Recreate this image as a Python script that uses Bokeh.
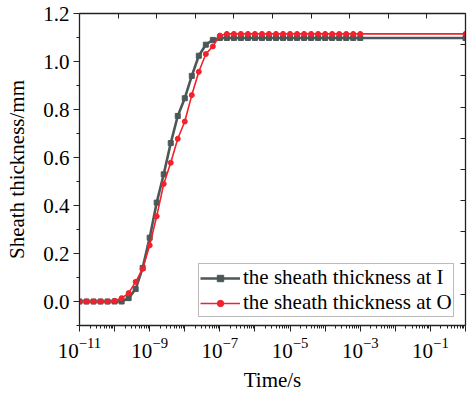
from bokeh.plotting import figure
from bokeh.models import (LinearAxis, Range1d, FixedTicker, LinearScale, Legend,
                          LegendItem, PrintfTickFormatter)
from bokeh.embed import file_html
from bokeh.resources import INLINE

# ---- data ----
log_time = [-11.0, -10.8, -10.6, -10.4, -10.2, -10.0, -9.8, -9.6, -9.4, -9.2,
            -9.0, -8.8, -8.6, -8.4, -8.2, -8.0, -7.8, -7.6, -7.4, -7.2,
            -7.0, -6.8, -6.6, -6.4, -6.2, -6.0, -5.8, -5.6, -5.4, -5.2,
            -5.0, -4.8, -4.6, -4.4, -4.2, -4.0, -3.8, -3.6, -3.4, -3.2,
            -3.0, 0.0]
thickness_I = [0.0, 0.0, 0.0, 0.0, 0.0, 0.0, 0.0, 0.014, 0.052, 0.14,
               0.266, 0.412, 0.53, 0.66, 0.773, 0.847, 0.94, 1.024, 1.07, 1.09,
               1.098, 1.098, 1.098, 1.098, 1.098, 1.098, 1.098, 1.098, 1.098, 1.098,
               1.098, 1.098, 1.098, 1.098, 1.098, 1.098, 1.098, 1.098, 1.098, 1.098,
               1.098, 1.098]
thickness_O = [0.0, 0.0, 0.0, 0.0, 0.0, 0.003, 0.014, 0.035, 0.082, 0.136,
               0.234, 0.355, 0.49, 0.578, 0.678, 0.75, 0.86, 0.957, 1.031, 1.063,
               1.108, 1.115, 1.115, 1.115, 1.115, 1.115, 1.115, 1.115, 1.115, 1.115,
               1.115, 1.115, 1.115, 1.115, 1.115, 1.115, 1.115, 1.115, 1.115, 1.115,
               1.115, 1.115]
label_I = "the sheath thickness at I"
label_O = "the sheath thickness at O"
x_title = "Time/s"
y_title = "Sheath thickness/mm"
decades = [-11, -10, -9, -8, -7, -6, -5, -4, -3, -2, -1, 0]
labelled_decades = [-11, -9, -7, -5, -3, -1]
y_major = [0.0, 0.2, 0.4, 0.6, 0.8, 1.0, 1.2]
y_minor = [-0.1, 0.1, 0.3, 0.5, 0.7, 0.9, 1.1]

time = [10.0 ** e for e in log_time]

FONT = "Liberation Serif"
AX = "#222222"

p = figure(width=475, height=396, x_axis_type="log", x_range=(1e-11, 1.0),
           y_range=(-0.1, 1.2), output_backend="svg", toolbar_location=None,
           min_border_left=79, min_border_right=10, min_border_top=13,
           min_border_bottom=71)
p.grid.visible = False
p.outline_line_color = None
p.background_fill_color = "white"
p.border_fill_color = "white"

# bottom axis
xa = p.xaxis[0]
major_x = [10.0 ** k for k in decades]
minor_x = [m * 10.0 ** k for k in decades[:-1] for m in range(2, 10)]
xa.ticker = FixedTicker(ticks=major_x, minor_ticks=minor_x)
xa.major_label_overrides = {10.0 ** k: "" for k in decades if k not in labelled_decades}
xa.axis_label = x_title
# left axis
ya = p.yaxis[0]
ya.ticker = FixedTicker(ticks=y_major, minor_ticks=y_minor)
ya.formatter = PrintfTickFormatter(format="%.1f")
ya.axis_label = y_title

for ax in (xa, ya):
    ax.axis_line_color = AX
    ax.axis_line_width = 1.3
    ax.major_tick_line_color = AX
    ax.minor_tick_line_color = AX
    ax.major_tick_in = 0
    ax.major_tick_out = 6
    ax.minor_tick_in = 0
    ax.minor_tick_out = 3
    ax.major_label_text_font = FONT
    ax.major_label_text_font_size = "21px"
    ax.major_label_text_color = "black"
    ax.axis_label_text_font = FONT
    ax.axis_label_text_font_size = "21px"
    ax.axis_label_text_font_style = "normal"
    ax.axis_label_text_color = "black"
xa.major_label_standoff = 6
xa.axis_label_standoff = 7
ya.major_label_standoff = 4
ya.axis_label_standoff = 11

# mirror axes (top / right) with inward ticks only (no labels)
p.extra_x_ranges = {"top": Range1d(0, 10)}
p.extra_x_scales = {"top": LinearScale()}
p.extra_y_ranges = {"right": Range1d(0, 10)}
p.extra_y_scales = {"right": LinearScale()}
top = LinearAxis(x_range_name="top",
                 ticker=FixedTicker(ticks=[], minor_ticks=list(range(11))))
right = LinearAxis(y_range_name="right",
                   ticker=FixedTicker(ticks=[], minor_ticks=list(range(11))))
for ax in (top, right):
    ax.axis_line_color = AX
    ax.axis_line_width = 1.3
    ax.major_tick_line_color = None
    ax.minor_tick_line_color = AX
    ax.minor_tick_in = 5
    ax.minor_tick_out = 0
p.add_layout(top, "above")
p.add_layout(right, "right")

GRAY = "#4b5857"
RED = "#f4202c"
lI = p.line(time, thickness_I, line_color=GRAY, line_width=2.6)
sI = p.scatter(time, thickness_I, marker="square", size=5, fill_color=GRAY,
               line_color=GRAY)
lO = p.line(time, thickness_O, line_color=RED, line_width=1.6)
sO = p.scatter(time, thickness_O, marker="circle", size=5, fill_color=RED,
               line_color=RED)

legend = Legend(items=[LegendItem(label=label_I, renderers=[lI, sI]),
                       LegendItem(label=label_O, renderers=[lO, sO])],
                location=(119, 8))
legend.margin = 0
legend.padding = 1
legend.spacing = 0
legend.glyph_width = 40
legend.glyph_height = 16
legend.label_height = 16
legend.label_standoff = 3
legend.label_text_font = FONT
legend.label_text_font_size = "21px"
legend.label_text_color = "black"
legend.border_line_color = "#777777"
legend.border_line_width = 1
legend.background_fill_alpha = 1
p.add_layout(legend)

open("out.html", "w").write(file_html(p, INLINE))
